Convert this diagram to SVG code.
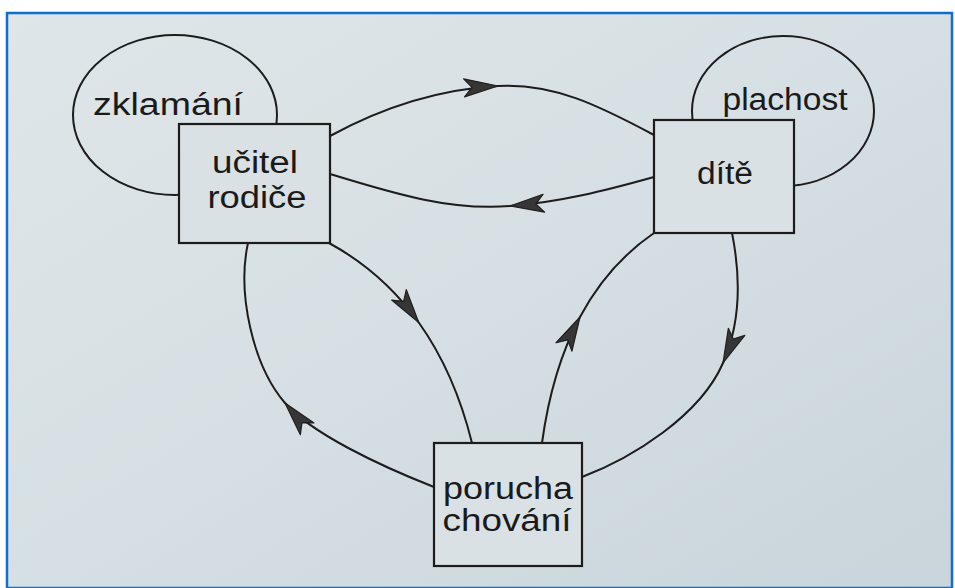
<svg xmlns="http://www.w3.org/2000/svg" width="955" height="588" viewBox="0 0 955 588">
  <defs>
    <linearGradient id="paper" x1="0" y1="0" x2="1" y2="1">
      <stop offset="0" stop-color="#dfe6e9"/>
      <stop offset="0.5" stop-color="#d6dfe3"/>
      <stop offset="1" stop-color="#c9d5db"/>
    </linearGradient>
    <marker id="ah" markerUnits="userSpaceOnUse" viewBox="0 0 35 20" markerWidth="35" markerHeight="20" refX="34" refY="10" orient="auto" overflow="visible">
      <path d="M0,1 L34,10 L0,19 L8,10 Z" fill="#363636" stroke="#1e1e1e" stroke-width="1.2" stroke-linejoin="round"/>
    </marker>
    <style>
      .bubble { fill: none; stroke: #1c1c1c; stroke-width: 2; }
      .box { fill: #d9e1e5; stroke: #1c1c1c; stroke-width: 2.2; }
      .lbl { font-family: "Liberation Sans", Arial, sans-serif; font-size: 31px; fill: #1a1a1a; text-anchor: middle; }
      .edge { fill: none; stroke: #1c1c1c; stroke-width: 2; marker-mid: url(#ah); }
    </style>
  </defs>

  <rect x="0" y="0" width="955" height="588" fill="#ffffff"/>
  <rect x="7" y="13" width="945" height="575" fill="url(#paper)" stroke="#0e6fce" stroke-width="2.5"/>

  <g id="zklamani">
    <ellipse class="bubble" cx="175" cy="115" rx="102" ry="80"/>
    <text class="lbl" x="168" y="115" textLength="150" lengthAdjust="spacingAndGlyphs">zklamání</text>
  </g>

  <g id="plachost">
    <ellipse class="bubble" cx="783" cy="111" rx="91" ry="75"/>
    <text class="lbl" x="785" y="110" textLength="125" lengthAdjust="spacingAndGlyphs">plachost</text>
  </g>

  <g id="ucitel-rodice">
    <rect class="box" x="179" y="124" width="151" height="119"/>
    <text class="lbl" x="255" y="173" textLength="86" lengthAdjust="spacingAndGlyphs">učitel</text>
    <text class="lbl" x="257" y="208" textLength="99" lengthAdjust="spacingAndGlyphs">rodiče</text>
  </g>

  <g id="dite">
    <rect class="box" x="654" y="120" width="140" height="113"/>
    <text class="lbl" x="725" y="184" textLength="56" lengthAdjust="spacingAndGlyphs">dítě</text>
  </g>

  <g id="porucha-chovani">
    <rect class="box" x="434" y="443" width="148" height="123"/>
    <text class="lbl" x="508" y="499" textLength="130" lengthAdjust="spacingAndGlyphs">porucha</text>
    <text class="lbl" x="507" y="531" textLength="129" lengthAdjust="spacingAndGlyphs">chování</text>
  </g>

  <g id="connectors">
    <path class="edge" d="M330,136 C385,106 443,89 498,86 C553,83 598,105 654,135"/>
    <path class="edge" d="M654,177 C604,191 560,202 510,206 C450,211 392,193 330,174"/>
    <path class="edge" d="M329,243 Q383,272.5 418.75,322.5 Q454.5,372.5 472,443"/>
    <path class="edge" d="M434,487 C378,465 311,433 285,403 C252.5,365 237,293 248,243"/>
    <path class="edge" d="M542,443 Q552,369.5 580,317 Q608,264.5 654,233"/>
    <path class="edge" d="M732,233 C741,278 741,322 723,363 C700,416 632,458 582,477"/>
  </g>
</svg>
